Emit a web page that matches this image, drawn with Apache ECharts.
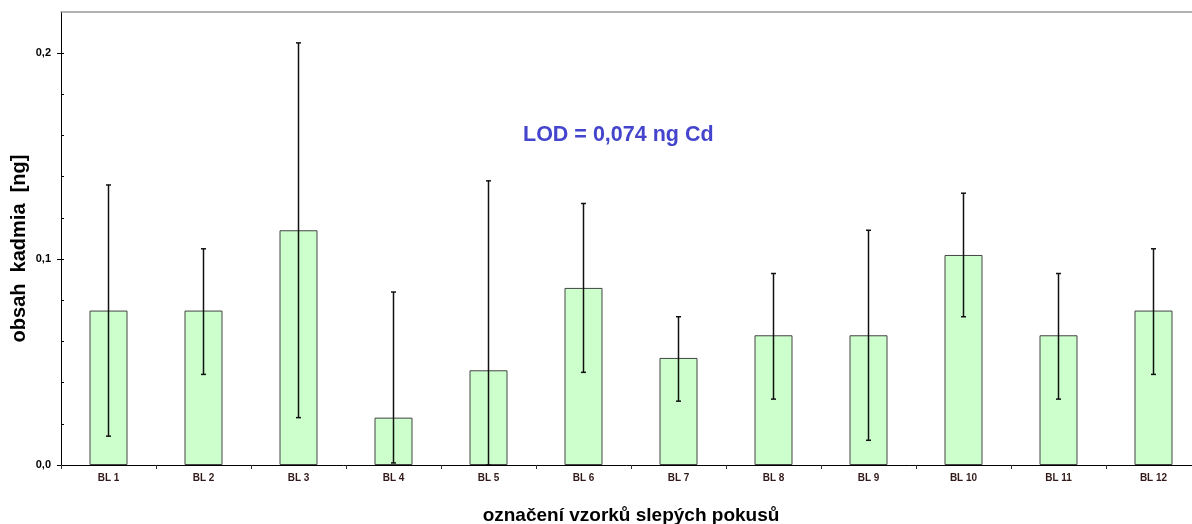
<!DOCTYPE html>
<html><head><meta charset="utf-8">
<script src="https://cdn.jsdelivr.net/npm/echarts@6/dist/echarts.min.js"></script>
<style>html,body{margin:0;padding:0;background:#fff}#c{width:1192px;height:524px}</style>
</head><body><div id="c"></div>
<script>
var categories = ['BL 1','BL 2','BL 3','BL 4','BL 5','BL 6','BL 7','BL 8','BL 9','BL 10','BL 11','BL 12'];
var means   = [0.075, 0.075, 0.114, 0.023, 0.046, 0.086, 0.052, 0.063, 0.063, 0.102, 0.063, 0.075];
var errLow  = [0.014, 0.044, 0.023, 0.001, 0.000, 0.045, 0.031, 0.032, 0.012, 0.072, 0.032, 0.044];
var errHigh = [0.136, 0.105, 0.205, 0.084, 0.138, 0.127, 0.072, 0.093, 0.114, 0.132, 0.093, 0.105];
var yTickLabels = ['0,0','0,1','0,2'];
var yMajorTicks = [0, 0.1, 0.2];

var chart = echarts.init(document.getElementById('c'));
var errData = categories.map(function(c,i){return [i, errLow[i], errHigh[i]];});
chart.setOption({
  animation:false,
  grid:{left:61, top:12, width:1140, height:453, containLabel:false, outerBoundsMode:'none'},
  xAxis:[{
    type:'category', data:categories, position:'bottom',
    axisLine:{onZero:false, lineStyle:{color:'#000', width:1}},
    axisTick:{show:true, inside:false, length:4, alignWithLabel:false, lineStyle:{color:'#333'}},
    axisLabel:{color:'#331a1a', fontSize:10, fontWeight:'bold', fontFamily:'Liberation Sans Narrow, Liberation Sans, Arial', margin:8},
    name:'označení vzorků slepých pokusů', nameLocation:'middle', nameGap:41, nameMoveOverlap:false,
    nameTextStyle:{color:'#000', fontSize:19, fontWeight:'bold', fontFamily:'Liberation Sans, Arial'}
  },{
    type:'category', data:categories, position:'top',
    axisLine:{show:true, onZero:false, lineStyle:{color:'#999', width:1.5}},
    axisTick:{show:false}, axisLabel:{show:false}
  }],
  yAxis:[{
    type:'value', min:0, max:0.22, interval:0.02,
    axisLine:{show:true, onZero:false, lineStyle:{color:'#000', width:1}},
    axisTick:{show:true, inside:true, length:3, lineStyle:{color:'#000'}},
    splitLine:{show:false},
    axisLabel:{
      color:'#000', fontSize:11, fontWeight:'bold', fontFamily:'Liberation Sans, Arial', margin:10,
      showMaxLabel:false,
      formatter:function(v){var k=Math.round(v*100); if(k%10!==0) return ''; return yTickLabels[k/10]||'';}
    },
    name:'obsah  kadmia  [ng]', nameLocation:'middle', nameGap:32, nameMoveOverlap:false,
    nameTextStyle:{color:'#000', fontSize:20, fontWeight:'bold', fontFamily:'Liberation Sans, Arial', padding:[0,20,0,0]}
  },{
    type:'value', min:0, max:0.22, position:'left',
    axisLine:{show:false, onZero:false}, splitLine:{show:false}, axisLabel:{show:false},
    axisTick:{show:true, inside:false, length:4, customValues:yMajorTicks, lineStyle:{color:'#000'}}
  }],
  series:[{
    type:'bar', data:means, barWidth:'40%', xAxisIndex:0, yAxisIndex:0,
    itemStyle:{color:'#ccffcc', borderColor:'#444', borderWidth:1}
  },{
    type:'custom', data:errData, clip:true, z:5, xAxisIndex:0, yAxisIndex:0,
    renderItem:function(params, api){
      var x = api.value(0);
      var lo = api.coord([x, api.value(1)]);
      var hi = api.coord([x, api.value(2)]);
      var cw = 2.5;
      return {type:'group', children:[
        {type:'line', shape:{x1:lo[0], y1:lo[1], x2:hi[0], y2:hi[1]}, style:{stroke:'#111', lineWidth:1.5}},
        {type:'line', shape:{x1:hi[0]-cw, y1:hi[1], x2:hi[0]+cw, y2:hi[1]}, style:{stroke:'#111', lineWidth:1.5}},
        {type:'line', shape:{x1:lo[0]-cw, y1:lo[1], x2:lo[0]+cw, y2:lo[1]}, style:{stroke:'#111', lineWidth:1.5}}
      ]};
    }
  }],
  graphic:[{
    type:'text', left:523, top:124,
    style:{text:'LOD = 0,074 ng Cd', fill:'#4444cc', font:'bold 21.5px "Liberation Sans", Arial'}
  }]
});
</script></body></html>
